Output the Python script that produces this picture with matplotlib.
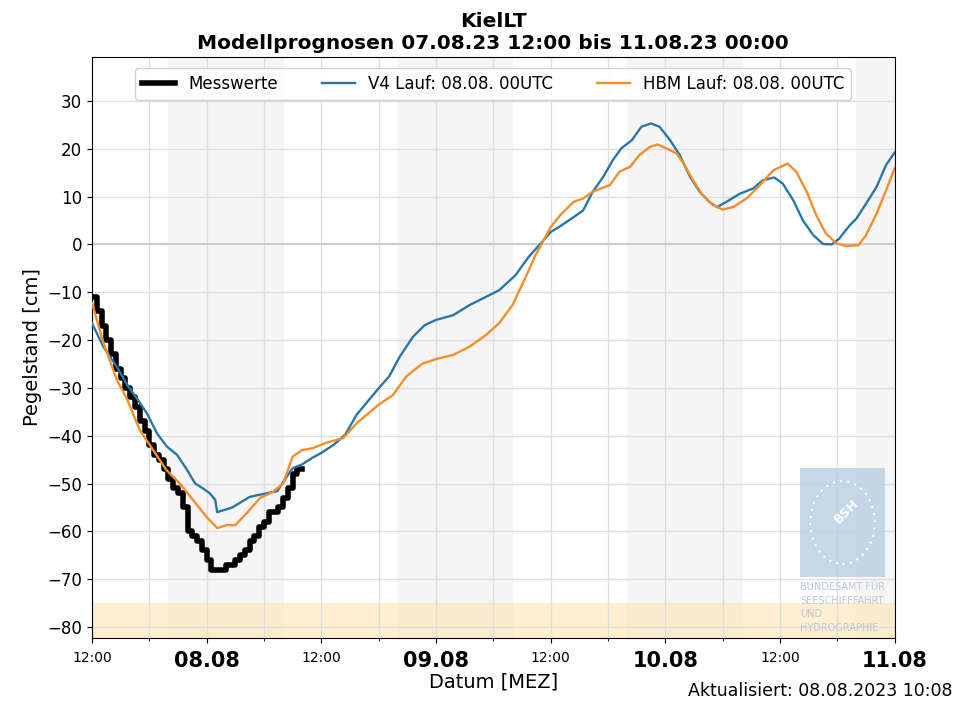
from datetime import datetime, timedelta

import matplotlib
matplotlib.use("Agg")
import matplotlib.pyplot as plt
from matplotlib.patches import Circle

# time axis: hours after 07.08.2023 12:00 (MEZ)
start = datetime(2023, 8, 7, 12)

# Messwerte (half-hourly, cm)
mess_h = [0, 0.5, 1, 1.5, 2, 2.5, 3, 3.5, 4, 4.5, 5, 5.5, 6, 6.5, 7, 7.5, 8, 8.5, 9, 9.5,
          10, 10.5, 11, 11.5, 12, 12.5, 13, 13.5, 14, 14.5, 15, 15.5, 16, 16.5, 17, 17.5,
          18, 18.5, 19, 19.5, 20, 20.5, 21, 21.5, 22]
mess_v = [-11, -14, -17, -20, -23, -26, -28, -30, -32, -34, -37, -39, -42, -44, -45, -47,
          -49, -51, -52, -55, -60, -61, -62, -64, -66, -68, -68, -68, -67, -67, -66, -65,
          -64, -62, -61, -59, -58, -56, -56, -55, -53, -51, -48, -47, -47]

# V4 Lauf 08.08. 00UTC
v4_h = [0, 1.2, 2.6, 3.7, 4.8, 5.8, 6.8, 7.8, 8.9, 9.9, 10.8, 11.6, 12.3, 12.9, 13.1,
        14.7, 16.5, 17.9, 19.4, 20.0, 21.0, 22.0, 23.0, 24.0, 25.3, 26.5, 27.7, 28.7,
        30.0, 31.1, 32.2, 33.6, 34.8, 36.0, 37.8, 39.5, 41.2, 42.6, 44.3, 45.7, 47.1,
        48.0, 49.0, 50.4, 51.4, 52.4, 53.5, 54.5, 55.4, 56.5, 57.5, 58.5, 59.4, 60.5,
        61.5, 62.6, 63.6, 64.6, 65.4, 66.4, 67.8, 69.2, 70.2, 71.4, 72.3, 73.4, 74.4,
        75.5, 76.5, 77.4, 78.2, 79.3, 80.0, 81.0, 82.1, 83.1, 84.0]
v4_v = [-16.5, -21.4, -25.6, -29.4, -32.5, -35.5, -39.5, -42.2, -44, -47, -50, -51, -52,
        -53.4, -56, -55, -52.8, -52.2, -51.6, -49.7, -46.8, -46, -44.7, -43.6, -41.9,
        -39.8, -35.6, -33.2, -30.1, -27.6, -23.5, -19.3, -16.9, -15.8, -14.8, -12.7, -11,
        -9.6, -6.5, -2.6, 0.5, 2.6, 3.8, 5.7, 7.1, 11, 14.1, 17.6, 20.1, 21.8, 24.6, 25.3,
        24.6, 21.8, 18.7, 14.1, 11, 8.9, 7.8, 8.9, 10.6, 11.7, 13.4, 14, 12.7, 9.2, 5,
        1.9, 0.1, 0, 1.2, 4, 5.4, 8.5, 12, 16.6, 19.2]

# HBM Lauf 08.08. 00UTC
hbm_h = [0, 1.2, 2.6, 3.7, 5.0, 6.4, 7.8, 9.2, 10.6, 12.0, 13.1, 14.1, 15.0, 16.2, 17.6,
         18.9, 20.0, 21.0, 22.0, 23.1, 24.5, 26.3, 27.7, 30.0, 31.5, 32.9, 34.6, 36.0,
         37.8, 39.5, 41.2, 42.6, 44.0, 45.4, 46.4, 48.0, 49.0, 50.4, 51.4, 52.4, 53.5,
         54.2, 55.2, 56.3, 57.3, 58.4, 59.2, 60.1, 61.2, 62.0, 62.9, 63.9, 65.0, 66.0,
         67.1, 68.5, 69.9, 71.3, 72.8, 73.7, 74.8, 75.8, 76.8, 77.9, 78.9, 80.2, 81.0,
         82.1, 83.1, 84.0]
hbm_v = [-12.2, -20.6, -28.3, -32.5, -38.8, -43, -47.2, -50, -53.5, -57, -59.3, -58.7,
         -58.7, -56.2, -53, -51.8, -50, -44.4, -43, -42.6, -41.5, -40.5, -37.4, -33.5,
         -31.5, -27.6, -24.9, -24, -23.1, -21.4, -19, -16.5, -12.7, -6.8, -2.3, 3.6, 6.1,
         8.9, 9.6, 11, 11.9, 12.4, 15.2, 16.2, 18.7, 20.4, 20.9, 20.1, 19, 16.6, 13.4,
         10.3, 8.2, 7.3, 7.8, 9.6, 12.4, 15.5, 16.9, 15.2, 11, 6.1, 2.3, 0.2, -0.3, -0.2,
         1.9, 6.4, 11.3, 15.9]

# night shading (hours after start)
night_h = [(8, 20), (32, 44), (56, 68), (80, 92)]


def to_dt(hours):
    return [start + timedelta(hours=h) for h in hours]


fig = plt.figure(figsize=(9.55, 7.03), dpi=100)
ax = fig.add_axes([0.0963, 0.0925, 0.8405, 0.8265])

for a, b in night_h:
    ax.axvspan(start + timedelta(hours=a), start + timedelta(hours=b),
               color="#f5f5f5", zorder=0)
ax.axhspan(-100, -75, color="#ffe7b8", alpha=0.65, zorder=0.5)
ax.axhline(0, color="#cccccc", lw=1.5, zorder=1)

ax.plot(to_dt(mess_h), mess_v, color="black", lw=4, drawstyle="steps-post",
        label="Messwerte", zorder=3)
ax.plot(to_dt(v4_h), v4_v, color="#2a76a6", lw=1.7, label="V4 Lauf: 08.08. 00UTC", zorder=4)
ax.plot(to_dt(hbm_h), hbm_v, color="#f28e2b", lw=1.7, label="HBM Lauf: 08.08. 00UTC", zorder=4)

ax.set_xlim(start, start + timedelta(hours=84))
ax.set_ylim(-82.3, 39.2)
ax.set_yticks(range(-80, 31, 10))
ax.tick_params(axis="y", labelsize=12)

major = [start + timedelta(hours=h) for h in range(0, 85, 12)]
ax.set_xticks(major)
ax.set_xticks([start + timedelta(hours=h) for h in range(6, 85, 12)], minor=True)
labels = []
for d in major:
    labels.append(d.strftime("%H:%M") if d.hour == 12 else d.strftime("%d.%m"))
ax.set_xticklabels(labels)
for lab, d in zip(ax.get_xticklabels(), major):
    if d.hour == 0:
        lab.set_fontsize(15)
        lab.set_fontweight("bold")
    else:
        lab.set_fontsize(10)
ax.tick_params(axis="x", which="major", pad=6)

ax.grid(True, which="both", color="#dddddd", lw=0.9, zorder=0.8)
ax.set_axisbelow(True)

ax.set_xlabel("Datum [MEZ]", fontsize=14, labelpad=1)
ax.set_ylabel("Pegelstand [cm]", fontsize=14)
ax.set_title("KielLT\nModellprognosen 07.08.23 12:00 bis 11.08.23 00:00",
             fontsize=14.5, fontweight="bold", pad=6)

ax.legend(loc="upper center", ncol=3, fontsize=12, framealpha=0.9,
          bbox_to_anchor=(0.5, 0.995), columnspacing=2.6)

# BSH logo watermark
logo = fig.add_axes([0.8377, 0.1792, 0.089, 0.155])
logo.set_facecolor("#bcd0e3")
logo.patch.set_alpha(0.85)
logo.set_xlim(0, 1)
logo.set_ylim(0, 1)
logo.set_xticks([])
logo.set_yticks([])
for s in logo.spines.values():
    s.set_visible(False)
logo.add_patch(Circle((0.5, 0.5), 0.38, fill=False, ec="white", lw=1.5,
                      ls=(0, (1, 2.5)), transform=logo.transAxes))
logo.text(0.55, 0.6, "BSH", color="white", fontsize=9, fontweight="bold",
          rotation=45, ha="center", va="center")
fig.text(0.838, 0.172, "BUNDESAMT FÜR\nSEESCHIFFFAHRT\nUND\nHYDROGRAPHIE",
         color="#b9c8d6", fontsize=7, ha="left", va="top", linespacing=1.45)

fig.text(0.997, 0.004, "Aktualisiert: 08.08.2023 10:08", ha="right", va="bottom",
         fontsize=12.5)

fig.savefig("out.png", dpi=100)
